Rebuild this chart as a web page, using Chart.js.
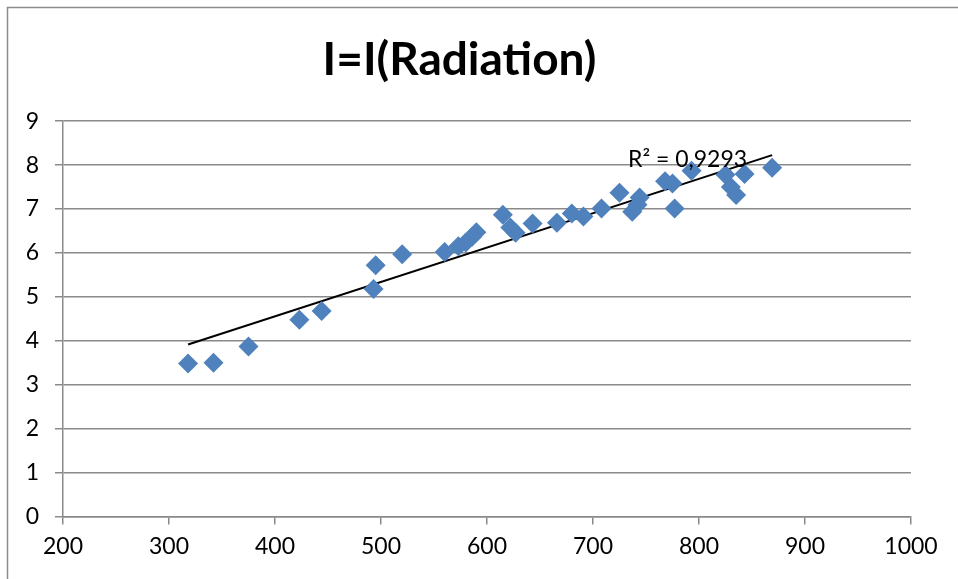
<!DOCTYPE html>
<html>
<head>
<meta charset="utf-8">
<script src="https://cdn.jsdelivr.net/npm/chart.js@4/dist/chart.umd.min.js"></script>
<style>
  html, body { margin: 0; padding: 0; background: #fff; }
  #wrap { width: 958px; height: 579px; }
</style>
</head>
<body>
<div id="wrap"><canvas id="chart" width="958" height="579"></canvas></div>
<script>
// Datos: radiación (x) vs I (y)
const radiation = [318, 342, 375, 423, 444, 493, 495, 520, 560, 573, 580, 586, 590, 615, 622, 627, 643, 666, 680, 691, 708, 725, 737, 742, 744, 768, 775, 777, 793, 825, 830, 835, 843, 869];
const current = [3.48, 3.5, 3.87, 4.48, 4.68, 5.18, 5.72, 5.97, 6.02, 6.15, 6.24, 6.37, 6.47, 6.87, 6.58, 6.46, 6.67, 6.69, 6.9, 6.83, 7.01, 7.37, 6.94, 7.1, 7.26, 7.63, 7.58, 7.01, 7.87, 7.78, 7.5, 7.32, 7.8, 7.94];
const xTicks = [200, 300, 400, 500, 600, 700, 800, 900, 1000];
const yTicks = [0, 1, 2, 3, 4, 5, 6, 7, 8, 9];
const titleText = 'I=I(Radiation)';
const r2Text = 'R² = 0,9293';

// Línea de tendencia lineal (mínimos cuadrados) sobre el rango de los datos
function linearFit(xs, ys) {
    const n = xs.length;
    const mx = xs.reduce((a, b) => a + b, 0) / n;
    const my = ys.reduce((a, b) => a + b, 0) / n;
    let sxy = 0, sxx = 0;
    for (let i = 0; i < n; i++) {
        sxy += (xs[i] - mx) * (ys[i] - my);
        sxx += (xs[i] - mx) * (xs[i] - mx);
    }
    const m = sxy / sxx;
    return { m: m, b: my - m * mx };
}
const fit = linearFit(radiation, current);
const xMin = Math.min(...radiation);
const xMax = Math.max(...radiation);
const trend = [
    { x: xMin, y: fit.m * xMin + fit.b },
    { x: xMax, y: fit.m * xMax + fit.b }
];

const gridColor = '#8a8a8a';
const FONT = 'Lato';

// Marco exterior estilo Excel
const framePlugin = {
    id: 'frame',
    beforeDraw(chart) {
        const ctx = chart.ctx;
        ctx.save();
        ctx.strokeStyle = '#8c8c8c';
        ctx.lineWidth = 1.5;
        ctx.strokeRect(7.5, 7.5, chart.width + 10, chart.height + 10);
        ctx.restore();
    }
};

// Etiqueta R² junto al final de la tendencia
const r2Plugin = {
    id: 'r2label',
    afterDatasetsDraw(chart) {
        const ctx = chart.ctx;
        const xs = chart.scales.x, ys = chart.scales.y;
        const px = xs.getPixelForValue(xMax) - 25;
        const py = ys.getPixelForValue(fit.m * xMax + fit.b);
        ctx.save();
        ctx.font = `23px ${FONT}`;
        ctx.fillStyle = '#000';
        ctx.textAlign = 'right';
        ctx.textBaseline = 'middle';
        ctx.fillText(r2Text, px, py + 4);
        ctx.restore();
    }
};

new Chart(document.getElementById('chart'), {
    type: 'scatter',
    data: {
        datasets: [
            {
                label: 'I',
                data: radiation.map((x, i) => ({ x: x, y: current[i] })),
                pointStyle: 'rectRot',
                pointRadius: 10,
                pointHoverRadius: 10,
                backgroundColor: '#4f81bd',
                borderColor: '#4f81bd',
                borderWidth: 0
            },
            {
                label: 'Tendencia',
                type: 'line',
                data: trend,
                borderColor: '#000',
                borderWidth: 2,
                pointRadius: 0,
                fill: false
            }
        ]
    },
    options: {
        responsive: false,
        animation: false,
        layout: { padding: { left: 8, right: 47, top: 17, bottom: 11 } },
        plugins: {
            legend: { display: false },
            tooltip: { enabled: false },
            title: {
                display: true,
                text: titleText,
                color: '#000',
                font: { family: FONT, size: 46, weight: 'bold' },
                padding: { top: 16, bottom: 33 }
            }
        },
        scales: {
            x: {
                type: 'linear',
                min: 200,
                max: 1000,
                afterBuildTicks: (s) => { s.ticks = xTicks.map(v => ({ value: v })); },
                grid: { drawOnChartArea: false, drawTicks: true, tickLength: 8, color: gridColor, lineWidth: 1.5 },
                border: { color: gridColor, width: 1.5 },
                ticks: { color: '#000', font: { family: FONT, size: 23 }, padding: 8, maxRotation: 0, callback: (v) => String(v) }
            },
            y: {
                min: 0,
                max: 9,
                afterBuildTicks: (s) => { s.ticks = yTicks.map(v => ({ value: v })); },
                afterFit: (s) => { s.width = 55; },
                grid: { color: gridColor, lineWidth: 1.5, tickLength: 8 },
                border: { color: gridColor, width: 1.5 },
                ticks: { color: '#000', font: { family: FONT, size: 23 }, padding: 16 }
            }
        }
    },
    plugins: [framePlugin, r2Plugin]
});
</script>
</body>
</html>
